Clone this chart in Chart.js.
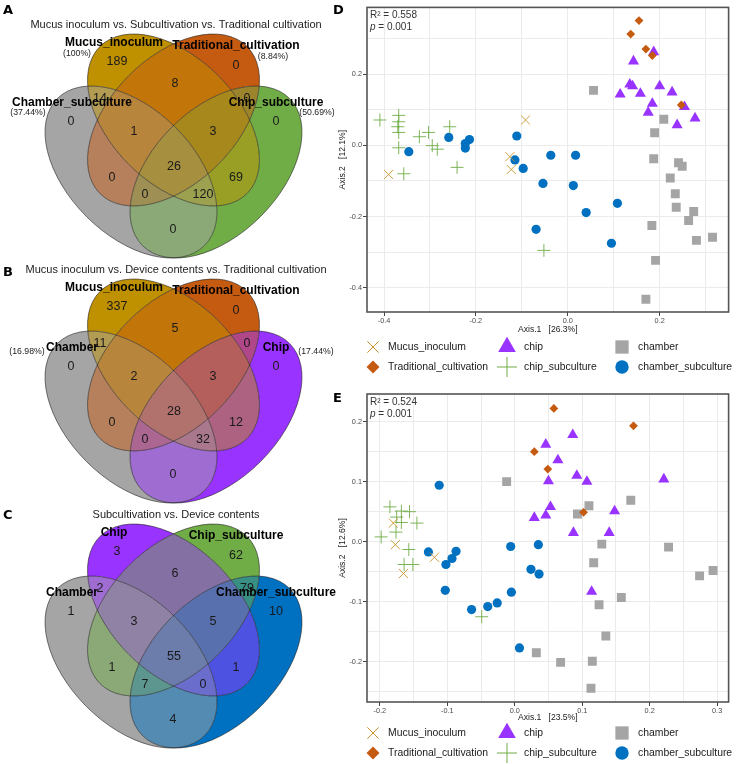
<!DOCTYPE html>
<html>
<head>
<meta charset="utf-8">
<script src="https://cdn.jsdelivr.net/npm/chart.js@4/dist/chart.umd.min.js"></script>
<style>
  body { margin: 0; background: #fff; }
  #wrap { position: relative; width: 736px; height: 764px; overflow: hidden; }
  canvas { position: absolute; }
</style>
</head>
<body>
<div id="wrap">
  <canvas id="venn" width="336" height="764" style="left:0;top:0"></canvas>
  <canvas id="pcoaD" width="406" height="385" style="left:330px;top:0"></canvas>
  <canvas id="pcoaE" width="406" height="379" style="left:330px;top:385px"></canvas>
</div>
<script>
// ---------- Venn data ----------
// region order: single sets, pairs, triples, all four
const vennKeys = ['A', 'B', 'C', 'D', 'AB', 'CD', 'BC', 'AD', 'AC', 'BD', 'ABC', 'BCD', 'ABD', 'ACD', 'ABCD']

const vennTitleA = 'Mucus inoculum vs. Subcultivation vs. Traditional cultivation'
const vennSetsA = ['Chamber_subculture', 'Mucus_inoculum', 'Traditional_cultivation', 'Chip_subculture']
const vennPctA = ['(37.44%)', '(100%)', '(8.84%)', '(50.69%)']
const vennCountsA = [0, 189, 0, 0, 14, 0, 8, 0, 0, 69, 1, 3, 120, 0, 26]

const vennTitleB = 'Mucus inoculum vs. Device contents vs. Traditional cultivation'
const vennSetsB = ['Chamber', 'Mucus_inoculum', 'Traditional_cultivation', 'Chip']
const vennPctB = ['(16.98%)', '', '', '(17.44%)']
const vennCountsB = [0, 337, 0, 0, 11, 0, 5, 0, 0, 12, 2, 3, 32, 0, 28]

const vennTitleC = 'Subcultivation vs. Device contents'
const vennSetsC = ['Chamber', 'Chip', 'Chip_subculture', 'Chamber_subculture']
const vennPctC = ['', '', '', '']
const vennCountsC = [1, 3, 62, 10, 2, 79, 6, 4, 1, 1, 3, 5, 0, 7, 55]

// ---------- PCoA data [Axis.1, Axis.2] ----------
const groupNames = ['Mucus_inoculum', 'Traditional_cultivation', 'chip', 'chip_subculture', 'chamber', 'chamber_subculture']

const dMucus = [[-0.092, 0.071], [-0.126, -0.032], [-0.123, -0.068], [-0.390, -0.082]]
const dTrad = [[0.155, 0.350], [0.137, 0.312], [0.170, 0.270], [0.184, 0.252], [0.247, 0.113]]
const dChip = [[0.187, 0.262], [0.143, 0.236], [0.135, 0.171], [0.141, 0.166], [0.114, 0.143], [0.158, 0.145], [0.200, 0.166],
  [0.227, 0.149], [0.184, 0.117], [0.175, 0.092], [0.254, 0.108], [0.238, 0.057], [0.277, 0.076]]
const dChipSub = [[-0.409, 0.071], [-0.368, 0.084], [-0.368, 0.066], [-0.370, 0.052], [-0.368, 0.036], [-0.368, -0.007],
  [-0.323, 0.024], [-0.303, 0.036], [-0.295, -0.001], [-0.284, -0.011], [-0.257, 0.052], [-0.357, -0.080], [-0.241, -0.062], [-0.052, -0.295]]
const dChamber = [[0.056, 0.154], [0.209, 0.073], [0.189, 0.035], [0.187, -0.038], [0.241, -0.049], [0.249, -0.059], [0.223, -0.092],
  [0.234, -0.136], [0.236, -0.174], [0.274, -0.186], [0.263, -0.211], [0.183, -0.225], [0.280, -0.267], [0.315, -0.258], [0.191, -0.323], [0.170, -0.432]]
const dChamberSub = [[-0.346, -0.018], [-0.259, 0.022], [-0.214, 0.016], [-0.223, 0.005], [-0.223, -0.008], [-0.111, 0.026], [-0.115, -0.041],
  [-0.097, -0.065], [-0.037, -0.028], [0.017, -0.028], [-0.054, -0.107], [0.012, -0.113], [0.108, -0.163], [0.040, -0.189], [-0.069, -0.236], [0.095, -0.275]]

const eMucus = [[-0.180, 0.031], [-0.177, -0.005], [-0.119, -0.026], [-0.165, -0.053]]
const eTrad = [[0.058, 0.222], [0.176, 0.193], [0.029, 0.150], [0.049, 0.121], [0.102, 0.049]]
const eChip = [[0.086, 0.178], [0.046, 0.162], [0.064, 0.136], [0.050, 0.101], [0.092, 0.110], [0.107, 0.100], [0.221, 0.104],
  [0.053, 0.058], [0.046, 0.044], [0.029, 0.040], [0.148, 0.051], [0.087, 0.015], [0.140, 0.015], [0.114, -0.083]]
const eChipSub = [[-0.185, 0.058], [-0.168, 0.051], [-0.156, 0.050], [-0.175, 0.041], [-0.168, 0.032], [-0.145, 0.031],
  [-0.176, 0.016], [-0.198, 0.008], [-0.157, -0.013], [-0.164, -0.038], [-0.151, -0.038], [-0.049, -0.125]]
const eChamber = [[-0.012, 0.100], [0.110, 0.060], [0.093, 0.046], [0.172, 0.069], [0.129, -0.004], [0.228, -0.009], [0.117, -0.035],
  [0.274, -0.057], [0.294, -0.048], [0.158, -0.093], [0.125, -0.105], [0.135, -0.157], [0.032, -0.185], [0.068, -0.201], [0.115, -0.199], [0.113, -0.244]]
const eChamberSub = [[-0.112, 0.094], [-0.006, -0.008], [0.035, -0.005], [-0.128, -0.017], [-0.087, -0.016], [-0.093, -0.028], [-0.102, -0.038],
  [-0.103, -0.081], [0.024, -0.046], [0.036, -0.054], [-0.005, -0.084], [-0.064, -0.113], [-0.040, -0.108], [-0.026, -0.102], [0.007, -0.177]]

// tick labels / grid breaks
const dTicksX = [-0.4, -0.2, 0, 0.2]
const dGridX = [-0.4, -0.3, -0.2, -0.1, 0, 0.1, 0.2, 0.3]
const dTicksY = [-0.4, -0.2, 0, 0.2]
const dGridY = [-0.4, -0.3, -0.2, -0.1, 0, 0.1, 0.2, 0.3]
const eTicksX = [-0.2, -0.1, 0, 0.1, 0.2, 0.3]
const eGridX = [-0.2, -0.15, -0.1, -0.05, 0, 0.05, 0.1, 0.15, 0.2, 0.25, 0.3]
const eTicksY = [-0.2, -0.1, 0, 0.1, 0.2]
const eGridY = [-0.25, -0.2, -0.15, -0.1, -0.05, 0, 0.05, 0.1, 0.15, 0.2]

// ---------- styles ----------
const FONT = '"Liberation Sans", Arial, sans-serif'
Chart.defaults.font.family = FONT

const groupColors = ['#C9952E', '#C55A11', '#9933FF', '#70AD47', '#A5A5A5', '#0070C0']
const groupShapes = ['crossRot', 'rectRot', 'triangle', 'cross', 'rect', 'circle']
const groupRadius = [6.5, 4.4, 6.4, 6.5, 6.3, 4.6]
const legendRadius = [8, 6.5, 10.2, 10, 9.4, 6.7]

const vennColorsA = ['#A5A5A5', '#BF9000', '#C55A11', '#70AD47']
const vennColorsB = ['#A5A5A5', '#BF9000', '#C55A11', '#9933FF']
const vennColorsC = ['#A5A5A5', '#9933FF', '#70AD47', '#0070C0']

// venn geometry in a panel's own pixel frame
const ellGeom = [
  {cx: 131, cy: 172, rot: 45},
  {cx: 173.5, cy: 120, rot: 45},
  {cx: 173.5, cy: 120, rot: -45},
  {cx: 216, cy: 172, rot: -45}
]
const ellAxes = [104, 63]
const regionAnchor = [[71, 122], [117, 62], [236, 66], [276, 122], [100, 99], [247, 99], [175, 84], [173, 230],
  [112, 178], [236, 178], [134, 132], [213, 132], [203, 195], [145, 195], [174, 167]]
const labelPos = [[72, 103], [114, 43], [236, 46], [276, 103]]

const vennPanels = [
  {dy: 0, letter: 'A', letterY: 14, title: vennTitleA, sets: vennSetsA, pct: vennPctA, counts: vennCountsA, colors: vennColorsA,
    pctPos: [[28, 113], [77, 54], [273, 57], [317, 113]]},
  {dy: 245, letter: 'B', letterY: 276, title: vennTitleB, sets: vennSetsB, pct: vennPctB, counts: vennCountsB, colors: vennColorsB,
    pctPos: [[27, 107], [77, 54], [273, 57], [316, 107]]},
  {dy: 490, letter: 'C', letterY: 519, title: vennTitleC, sets: vennSetsC, pct: vennPctC, counts: vennCountsC, colors: vennColorsC,
    pctPos: [[27, 107], [77, 54], [273, 57], [316, 107]]}
]

function hexRgb(h) {
  return [1, 3, 5].map(i => parseInt(h.slice(i, i + 2), 16))
}

function mixColor(list) {
  const rgb = [0, 0, 0]
  list.forEach(c => hexRgb(c).forEach((v, k) => rgb[k] += v / list.length))
  return `rgb(${rgb.map(Math.round).join(',')})`
}

const vennDraw = {
  id: 'vennDraw',
  beforeDatasetsDraw(chart) {
    const {ctx, scales: {x, y}} = chart
    const rx = x.getPixelForValue(ellAxes[0]) - x.getPixelForValue(0)
    const ry = Math.abs(y.getPixelForValue(ellAxes[1]) - y.getPixelForValue(0))
    vennPanels.forEach(panel => {
      const ells = ellGeom.map(e => {
        const p = new Path2D()
        p.ellipse(x.getPixelForValue(e.cx), y.getPixelForValue(e.cy + panel.dy), rx, ry, e.rot * Math.PI / 180, 0, Math.PI * 2)
        return p
      })
      // each region gets the average colour of the sets it belongs to
      vennKeys.forEach(key => {
        ctx.save()
        const used = []
        ells.forEach((ep, k) => {
          const inside = key.includes('ABCD'[k])
          if (inside) {
            used.push(panel.colors[k])
            ctx.clip(ep)
          } else {
            const p = new Path2D()
            p.rect(0, 0, chart.width, chart.height)
            p.addPath(ep)
            ctx.clip(p, 'evenodd')
          }
        })
        ctx.fillStyle = mixColor(used)
        ctx.fillRect(0, 0, chart.width, chart.height)
        ctx.restore()
      })
      ctx.save()
      ctx.strokeStyle = 'rgba(30,30,30,0.85)'
      ctx.lineWidth = 0.7
      ells.forEach(ep => ctx.stroke(ep))
      ctx.restore()
    })
  },
  afterDatasetsDraw(chart) {
    const {ctx, scales: {x, y}} = chart
    ctx.save()
    ctx.textAlign = 'center'
    ctx.textBaseline = 'middle'
    vennPanels.forEach((panel, pi) => {
      const px = v => x.getPixelForValue(v)
      const py = v => y.getPixelForValue(v + panel.dy)
      // counts
      ctx.fillStyle = '#1a1a1a'
      ctx.font = `12.5px ${FONT}`
      chart.getDatasetMeta(pi).data.forEach((pt, k) => {
        ctx.fillText(String(panel.counts[k]), pt.x, pt.y)
      })
      // set names
      ctx.fillStyle = '#000'
      ctx.font = `bold 12px ${FONT}`
      panel.sets.forEach((s, k) => ctx.fillText(s, px(labelPos[k][0]), py(labelPos[k][1])))
      ctx.fillStyle = '#222'
      ctx.font = `8.7px ${FONT}`
      panel.pct.forEach((s, k) => {
        if (s) ctx.fillText(s, px(panel.pctPos[k][0]), py(panel.pctPos[k][1]))
      })
      // title
      ctx.fillStyle = '#222'
      ctx.font = `11px ${FONT}`
      ctx.fillText(panel.title, px(176), py(25))
      // panel letter
      ctx.textAlign = 'left'
      ctx.textBaseline = 'alphabetic'
      ctx.fillStyle = '#000'
      ctx.font = 'bold 13px "DejaVu Sans", sans-serif'
      ctx.fillText(panel.letter, 3, panel.letterY)
      ctx.textAlign = 'center'
      ctx.textBaseline = 'middle'
    })
    ctx.restore()
  }
}

new Chart(document.getElementById('venn'), {
  type: 'scatter',
  data: {
    datasets: vennPanels.map(panel => ({
      data: regionAnchor.map(([ax, ay]) => ({x: ax, y: ay + panel.dy})),
      pointRadius: 0
    }))
  },
  options: {
    responsive: false,
    animation: false,
    events: [],
    layout: {padding: 0},
    plugins: {legend: {display: false}, tooltip: {enabled: false}},
    scales: {
      x: {type: 'linear', min: 0, max: 336, display: false},
      y: {type: 'linear', min: 0, max: 764, reverse: true, display: false}
    }
  },
  plugins: [vennDraw]
})

// ---------- PCoA panels ----------
function isLabelled(list, v) {
  return list.some(t => Math.abs(t - v) < 1e-9)
}

const legendMarkX = [43, 177, 292]
const legendTextX = [58, 194, 308]

const pcoaDecor = {
  id: 'pcoaDecor',
  afterDatasetsDraw(chart, args, opts) {
    const {ctx, chartArea: a} = chart
    ctx.save()
    ctx.strokeStyle = '#555'
    ctx.lineWidth = 1.6
    ctx.strokeRect(a.left, a.top, a.right - a.left, a.bottom - a.top)

    ctx.fillStyle = '#000'
    ctx.font = 'bold 13px "DejaVu Sans", sans-serif'
    ctx.fillText(opts.letter, 3, opts.letterY)

    ctx.fillStyle = '#333'
    ctx.textBaseline = 'middle'
    ctx.font = `10px ${FONT}`
    ctx.fillText('R\u00B2 = ' + opts.r2, a.left + 3, a.top + 8)
    ctx.font = `italic 10px ${FONT}`
    ctx.fillText('p', a.left + 3, a.top + 20)
    const pw = ctx.measureText('p').width
    ctx.font = `10px ${FONT}`
    ctx.fillText(' = ' + opts.p, a.left + 3 + pw, a.top + 20)

    // legend: 3 columns x 2 rows
    groupNames.forEach((name, i) => {
      const col = Math.floor(i / 2), row = i % 2
      const ly = opts.legendY[row]
      const lineStyle = groupShapes[i] === 'cross' || groupShapes[i] === 'crossRot'
      ctx.fillStyle = groupColors[i]
      ctx.strokeStyle = groupColors[i]
      ctx.lineWidth = 1
      Chart.helpers.drawPoint(ctx, {pointStyle: groupShapes[i], radius: legendRadius[i], borderWidth: lineStyle ? 1 : 0, rotation: 0},
        legendMarkX[col], ly)
      ctx.fillStyle = '#1a1a1a'
      ctx.font = `10.4px ${FONT}`
      ctx.fillText(name, legendTextX[col], ly)
    })
    ctx.restore()
  }
}

function pcoaChart(id, series, ax) {
  const tickFont = {family: FONT, size: 7.3}
  const titleFont = {family: FONT, size: 8.6}
  return new Chart(document.getElementById(id), {
    type: 'scatter',
    data: {
      datasets: groupNames.map((name, i) => ({
        label: name,
        data: series[i].map(([x, y]) => ({x, y})),
        pointStyle: groupShapes[i],
        pointRadius: groupRadius[i],
        pointBackgroundColor: groupColors[i],
        pointBorderColor: groupColors[i],
        pointBorderWidth: (groupShapes[i] === 'cross' || groupShapes[i] === 'crossRot') ? 0.9 : 0
      }))
    },
    options: {
      responsive: false,
      animation: false,
      events: [],
      layout: {padding: {left: 0, right: 3, top: ax.padTop, bottom: 0}},
      plugins: {
        legend: {display: false},
        tooltip: {enabled: false},
        pcoaDecor: ax.decor
      },
      scales: {
        x: {
          type: 'linear', min: ax.xMin, max: ax.xMax,
          afterBuildTicks: s => { s.ticks = ax.xGrid.map(v => ({value: v})) },
          afterFit: s => { s.height = ax.xAxisH },
          ticks: {autoSkip: false, maxRotation: 0, padding: 1, color: '#4d4d4d', font: tickFont,
            callback: v => isLabelled(ax.xTicks, v) ? v.toFixed(1) : ''},
          grid: {color: '#ebebeb', lineWidth: 1, tickLength: 4,
            tickColor: c => isLabelled(ax.xTicks, c.tick.value) ? '#444' : 'rgba(0,0,0,0)'},
          border: {display: false},
          title: {display: true, text: ax.xTitle, color: '#222', font: titleFont, padding: {top: 0, bottom: ax.xTitlePad}}
        },
        y: {
          type: 'linear', min: ax.yMin, max: ax.yMax,
          afterBuildTicks: s => { s.ticks = ax.yGrid.map(v => ({value: v})) },
          afterFit: s => { s.width = 37 },
          ticks: {autoSkip: false, padding: 1, color: '#4d4d4d', font: tickFont,
            callback: v => isLabelled(ax.yTicks, v) ? v.toFixed(1) : ''},
          grid: {color: '#ebebeb', lineWidth: 1, tickLength: 4,
            tickColor: c => isLabelled(ax.yTicks, c.tick.value) ? '#444' : 'rgba(0,0,0,0)'},
          border: {display: false},
          title: {display: true, text: ax.yTitle, color: '#222', font: titleFont, padding: {top: 7, bottom: 0}}
        }
      }
    },
    plugins: [pcoaDecor]
  })
}

pcoaChart('pcoaD', [dMucus, dTrad, dChip, dChipSub, dChamber, dChamberSub], {
  xMin: -0.437, xMax: 0.35, yMin: -0.468, yMax: 0.387,
  xGrid: dGridX, xTicks: dTicksX, yGrid: dGridY, yTicks: dTicksY,
  xTitle: 'Axis.1   [26.3%]', yTitle: 'Axis.2   [12.1%]',
  padTop: 6, xAxisH: 73, xTitlePad: 50,
  decor: {letter: 'D', letterY: 14, r2: '0.558', p: '0.001', legendY: [347, 367]}
})

pcoaChart('pcoaE', [eMucus, eTrad, eChip, eChipSub, eChamber, eChamberSub], {
  xMin: -0.219, xMax: 0.317, yMin: -0.267, yMax: 0.246,
  xGrid: eGridX, xTicks: eTicksX, yGrid: eGridY, yTicks: eTicksY,
  xTitle: 'Axis.1   [23.5%]', yTitle: 'Axis.2   [12.6%]',
  padTop: 9, xAxisH: 62, xTitlePad: 41,
  decor: {letter: 'E', letterY: 17, r2: '0.524', p: '0.001', legendY: [348, 368]}
})
</script>
</body>
</html>
